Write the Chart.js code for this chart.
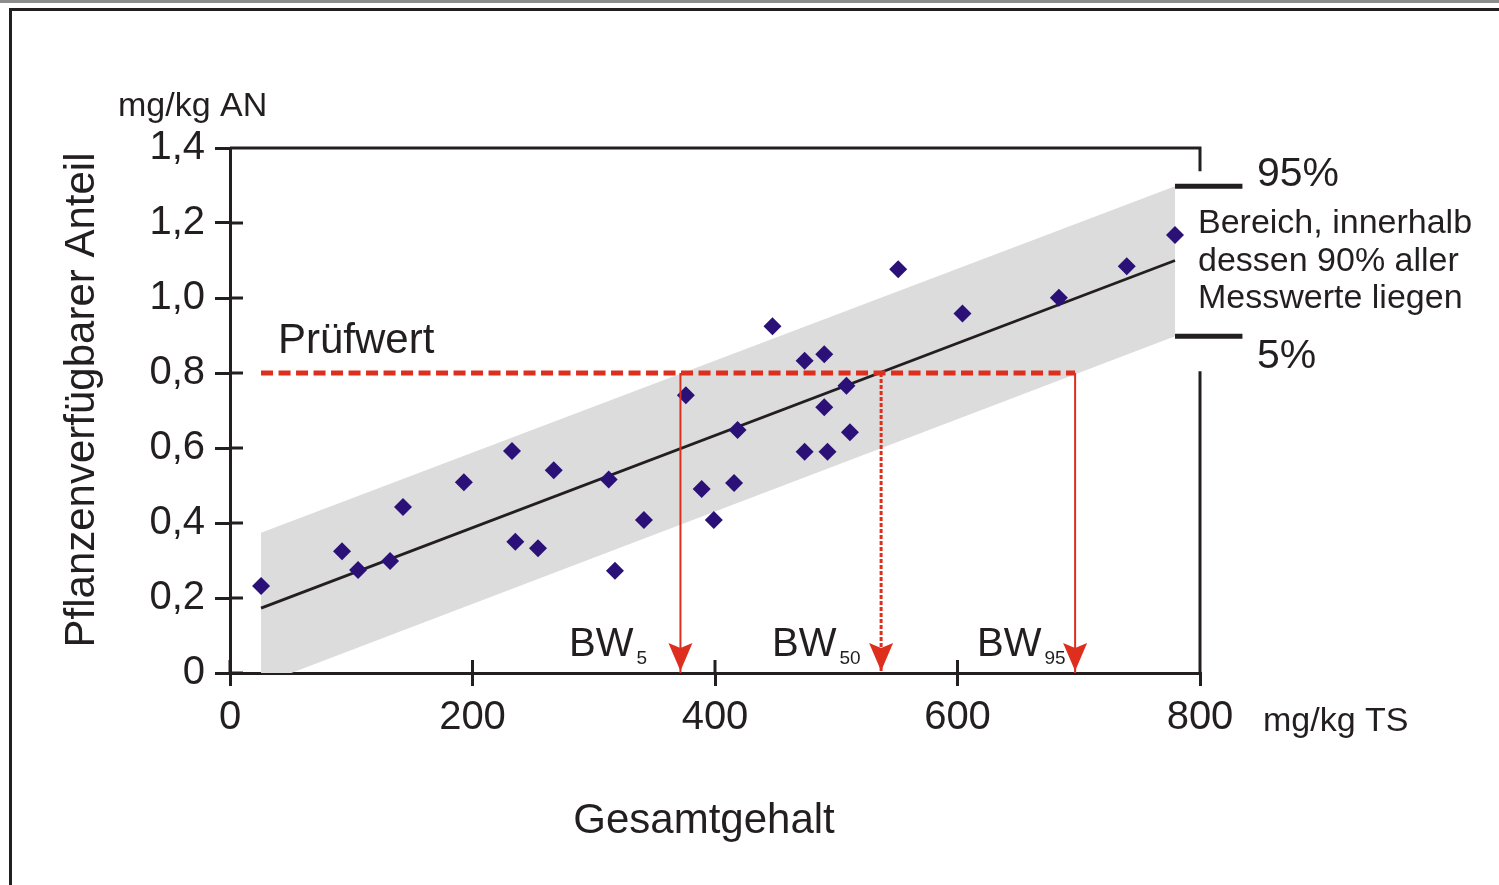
<!DOCTYPE html>
<html>
<head>
<meta charset="utf-8">
<title>Prüfwert und Bodenwerte</title>
<script src="https://cdn.jsdelivr.net/npm/chart.js@4.4.1/dist/chart.umd.min.js"></script>
<style>
    html, body { margin: 0; padding: 0; background: #fff; }
    canvas { display: block; }
</style>
</head>
<body>
<canvas id="chart" width="1499" height="885"></canvas>
<script>
// Messwerte: Gesamtgehalt (mg/kg TS) -> pflanzenverfügbarer Anteil (mg/kg AN)
const pointX = [25.6, 92.4, 105.6, 132, 142.7, 192.9, 232.6, 235.3, 254, 267,
    312.3, 317.5, 341.4, 376, 389, 399, 415.7, 418.6, 447.4, 473.9,
    490.1, 473.9, 490.1, 492.8, 508.4, 511.3, 551.1, 604.1, 683.6, 739.6, 779.4];
const pointY = [0.232, 0.325, 0.275, 0.299, 0.443, 0.509, 0.592, 0.350, 0.333, 0.541,
    0.516, 0.273, 0.408, 0.741, 0.491, 0.408, 0.507, 0.648, 0.925, 0.833,
    0.850, 0.590, 0.709, 0.590, 0.766, 0.642, 1.077, 0.959, 1.001, 1.085, 1.168];

// Regressionsgerade
const lineX = [25.6, 779.4];
const lineY = [0.173, 1.100];

// Bereich, innerhalb dessen 90% aller Messwerte liegen (5% .. 95%)
const bandX = [25.6, 779.4, 779.4, 50.5, 25.6];
const bandY = [0.374, 1.298, 0.898, 0, 0];
const bandMarkX = 835; // Ende der 95%/5% Striche

// Prüfwert und Bodenwerte BW5 / BW50 / BW95
const pruefwert = 0.8;
const bwX = [371.5, 537, 697];
const bwSub = ['5', '50', '95'];

const xTicks = ['0', '200', '400', '600', '800'];
const yTicks = ['0', '0,2', '0,4', '0,6', '0,8', '1,0', '1,2', '1,4'];

const ink = '#231f20';
const red = '#dd2e1e';
const fam = '"Liberation Sans", Arial, Helvetica, sans-serif';

const toPts = (xs, ys) => xs.map((x, i) => ({ x: x, y: ys[i] }));

// Zeichnet Rahmen, Pfeilspitzen und Beschriftungen
const decor = {
    id: 'decor',
    beforeDraw(chart) {
        const c = chart.ctx;
        c.save();
        c.fillStyle = '#fff';
        c.fillRect(0, 0, chart.width, chart.height);
        c.fillStyle = '#8c8c8c';
        c.fillRect(0, 0, chart.width, 3);
        c.strokeStyle = ink;
        c.lineWidth = 3;
        c.beginPath();
        c.moveTo(10.5, chart.height);
        c.lineTo(10.5, 9.5);
        c.lineTo(chart.width, 9.5);
        c.stroke();
        c.restore();
    },
    afterDatasetsDraw(chart) {
        const c = chart.ctx, xs = chart.scales.x, ys = chart.scales.y, a = chart.chartArea;
        c.save();
        c.strokeStyle = ink;
        c.lineWidth = 3;
        c.beginPath();
        // Ticks nach innen
        ys.ticks.forEach(t => {
            const y = ys.getPixelForValue(t.value);
            c.moveTo(a.left, y); c.lineTo(a.left + 13, y);
        });
        xs.ticks.forEach(t => {
            const x = xs.getPixelForValue(t.value);
            c.moveTo(x, a.bottom); c.lineTo(x, a.bottom - 13);
        });
        // oberer und rechter Rahmen
        const y95 = ys.getPixelForValue(bandY[1]);
        const y5 = ys.getPixelForValue(bandY[2]);
        c.moveTo(a.left, a.top); c.lineTo(a.right, a.top); c.lineTo(a.right, y95 - 15);
        c.moveTo(a.right, y5 + 35); c.lineTo(a.right, a.bottom);
        c.stroke();

        // 95% / 5% Striche
        c.lineWidth = 5;
        c.beginPath();
        const bx0 = xs.getPixelForValue(bandX[1]), bx1 = xs.getPixelForValue(bandMarkX);
        c.moveTo(bx0, y95); c.lineTo(bx1, y95);
        c.moveTo(bx0, y5); c.lineTo(bx1, y5);
        c.stroke();

        // Pfeilspitzen
        c.fillStyle = red;
        const tip = ys.getPixelForValue(0) - 2;
        bwX.forEach(v => {
            const x = xs.getPixelForValue(v);
            c.beginPath();
            c.moveTo(x, tip);
            c.lineTo(x - 12, tip - 28);
            c.lineTo(x, tip - 23);
            c.lineTo(x + 12, tip - 28);
            c.closePath();
            c.fill();
        });
        c.restore();
    },
    afterDraw(chart) {
        const c = chart.ctx, ys = chart.scales.y;
        c.save();
        c.fillStyle = ink;
        c.textBaseline = 'alphabetic';
        c.textAlign = 'left';

        c.font = '34px ' + fam;
        c.fillText('mg/kg AN', 118, 116);
        c.fillText('mg/kg TS', 1263, 731);

        c.font = '42px ' + fam;
        c.fillText('Prüfwert', 278, ys.getPixelForValue(pruefwert) - 20);

        c.textAlign = 'center';
        c.fillText('Gesamtgehalt', 704, 833);

        c.save();
        c.translate(94, 400);
        c.rotate(-Math.PI / 2);
        c.font = '42px ' + fam;
        c.fillText('Pflanzenverfügbarer Anteil', 0, 0);
        c.restore();

        c.textAlign = 'left';
        c.font = '41px ' + fam;
        c.fillText('95%', 1257, 186);
        c.fillText('5%', 1257, 368);

        c.font = '34px ' + fam;
        ['Bereich, innerhalb', 'dessen 90% aller', 'Messwerte liegen'].forEach((s, i) => {
            c.fillText(s, 1198, 233 + i * 37.5);
        });

        // BW-Beschriftungen
        [569, 772, 977].forEach((x, i) => {
            c.font = '40px ' + fam;
            c.fillText('BW', x, 656);
            const w = c.measureText('BW').width;
            c.font = '19px ' + fam;
            c.fillText(bwSub[i], x + w + 3, 664);
        });
        c.restore();
    }
};

const datasets = [
    {
        label: 'Bereich', data: toPts(bandX, bandY), showLine: true, fill: 'shape',
        backgroundColor: '#dcdcdc', borderColor: 'rgba(0,0,0,0)', borderWidth: 0,
        pointRadius: 0, order: 5
    },
    {
        label: 'Regression', data: toPts(lineX, lineY), showLine: true,
        borderColor: ink, borderWidth: 2.8, pointRadius: 0, order: 4
    },
    {
        label: 'Messwerte', data: toPts(pointX, pointY), pointStyle: 'rectRot',
        pointRadius: 9, backgroundColor: '#2b1078', borderWidth: 0, order: 3
    },
    {
        label: 'Prüfwert', data: [{ x: bandX[0], y: pruefwert }, { x: bwX[2], y: pruefwert }],
        showLine: true, borderColor: red, borderWidth: 5, borderDash: [12, 5.5],
        pointRadius: 0, order: 2
    }
];
bwX.forEach((x, i) => {
    datasets.push({
        label: 'BW' + bwSub[i], data: [{ x: x, y: pruefwert }, { x: x, y: 0 }],
        showLine: true, borderColor: red, borderWidth: i === 1 ? 3 : 2,
        borderDash: i === 1 ? [4, 2] : [], pointRadius: 0, order: 1
    });
});

new Chart(document.getElementById('chart').getContext('2d'), {
    type: 'scatter',
    data: { datasets: datasets },
    options: {
        responsive: false,
        animation: false,
        devicePixelRatio: 1,
        layout: { padding: { top: 148, right: 299, bottom: 0, left: 0 } },
        plugins: { legend: { display: false }, tooltip: { enabled: false } },
        scales: {
            x: {
                type: 'linear', min: 0, max: 800,
                afterFit(s) { s.height = 212; },
                ticks: {
                    stepSize: 200, color: ink, padding: 8,
                    font: { family: fam, size: 40 },
                    callback: (v, i) => xTicks[i]
                },
                grid: { drawOnChartArea: false, tickLength: 13, lineWidth: 3, color: ink },
                border: { color: ink, width: 3 }
            },
            y: {
                type: 'linear', min: 0, max: 1.4,
                afterFit(s) { s.width = 230; },
                ticks: {
                    stepSize: 0.2, color: ink, padding: 10,
                    font: { family: fam, size: 40 },
                    callback: (v, i) => yTicks[i]
                },
                grid: { drawOnChartArea: false, tickLength: 15, lineWidth: 3, color: ink },
                border: { color: ink, width: 3 }
            }
        }
    },
    plugins: [decor]
});
</script>
</body>
</html>
